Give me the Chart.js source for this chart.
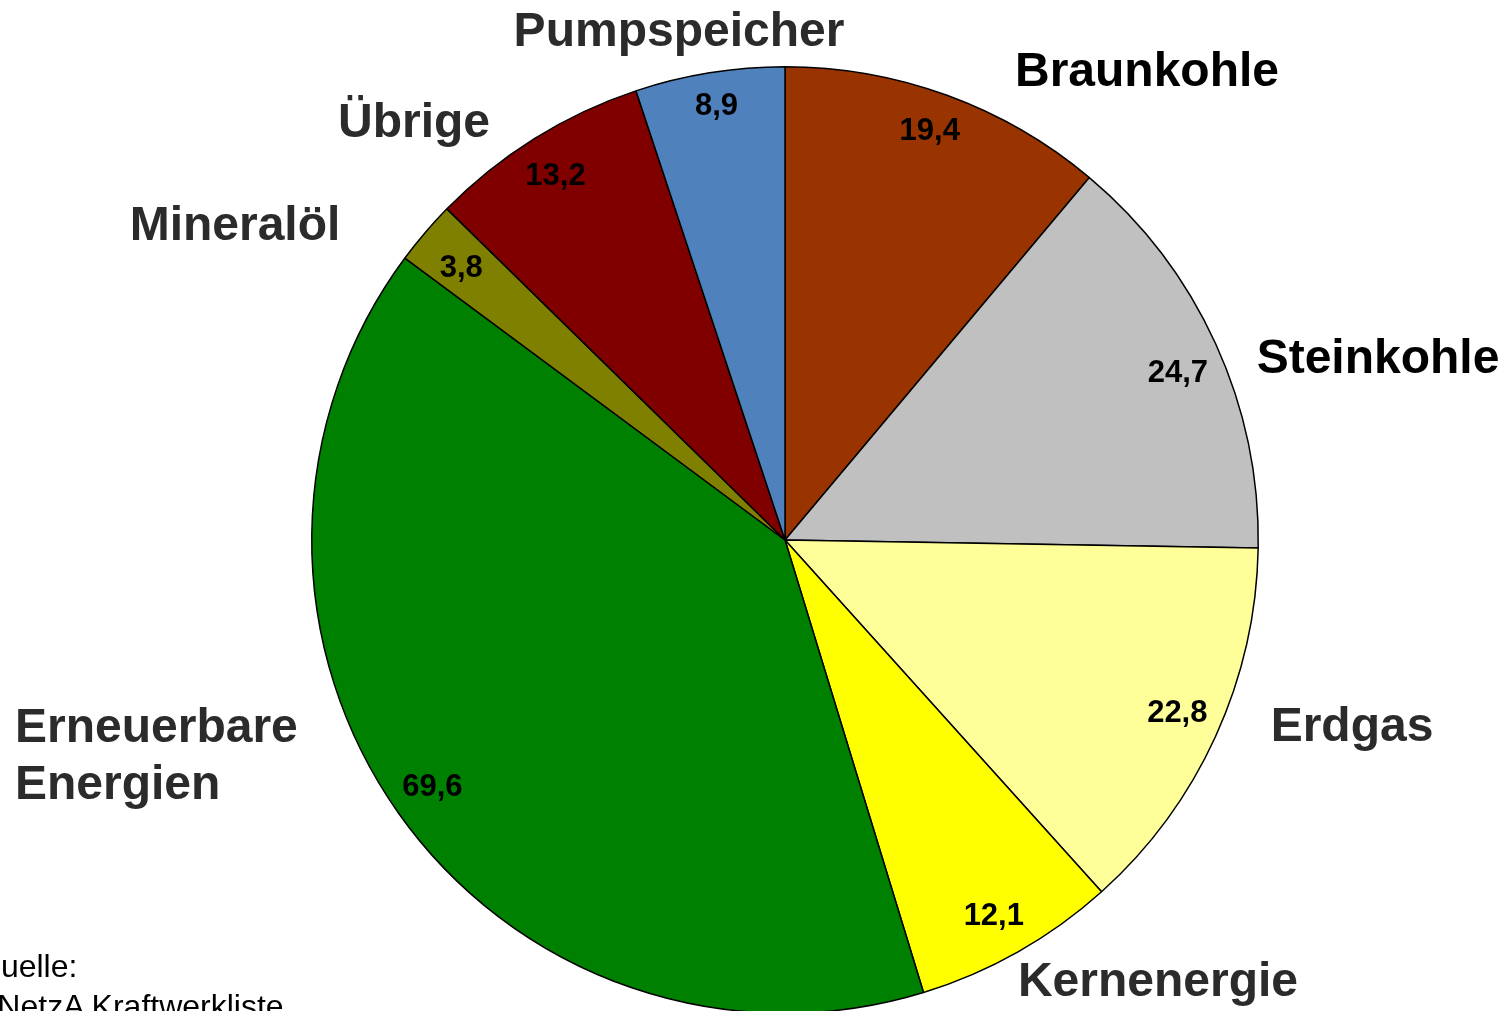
<!DOCTYPE html>
<html lang="de">
<head>
  <meta charset="UTF-8">
  <title>Kraftwerksleistung nach Energieträgern</title>
  <style>
    body {
      margin: 0;
      background: #fff;
      overflow: hidden;
      width: 1504px;
      height: 1011px;
      position: relative;
      font-family: "Liberation Sans", Arial, sans-serif;
    }
    #wrap {
      position: absolute;
      left: 0;
      top: 0;
      width: 1504px;
      height: 1100px;
    }
    .source {
      position: absolute;
      left: -24px;
      top: 946px;
      font-size: 32px;
      line-height: 40px;
      color: #000;
      white-space: nowrap;
    }
  </style>
  <script src="https://cdn.jsdelivr.net/npm/chart.js"></script>
</head>
<body>
  <div id="wrap"><canvas id="pie"></canvas></div>
  <div class="source">Quelle:<br>BNetzA Kraftwerkliste</div>

  <script>
    // Data (GW)
    const categories = ['Braunkohle', 'Steinkohle', 'Erdgas', 'Kernenergie',
      ['Erneuerbare', 'Energien'], 'Mineralöl', 'Übrige', 'Pumpspeicher'];
    const values = [19.4, 24.7, 22.8, 12.1, 69.6, 3.8, 13.2, 8.9];

    // Styles
    const sliceColors = ['#993300', '#C0C0C0', '#FFFF99', '#FFFF00',
      '#008000', '#808000', '#800000', '#4F81BD'];
    const labelColors = ['#000', '#000', '#2b2b2b', '#2b2b2b',
      '#2b2b2b', '#2b2b2b', '#2b2b2b', '#2b2b2b'];
    // category label anchors relative to the pie centre: [dx, baseline dy, align]
    const labelAnchors = [
      [362, -454, 'center'], [593, -167, 'center'], [567, 201, 'center'],
      [373, 456, 'center'], [-770, 202, 'left'], [-550, -300, 'center'],
      [-371, -403, 'center'], [-106, -494, 'center']
    ];
    // value label placement inside slices: [radius factor, angle shift in degrees]
    const valueSpots = [
      [0.916, -0.5], [0.902, 1.5], [0.906, -0.7], [0.91, 0.5],
      [0.91, 0.2], [0.893, -0.5], [0.908, -0.3], [0.928, 0.2]
    ];

    const fmt = v => v.toFixed(1).replace('.', ',');

    const pieLabels = {
      id: 'pieLabels',
      afterDatasetsDraw(chart) {
        const ctx = chart.ctx;
        const arcs = chart.getDatasetMeta(0).data;
        ctx.save();
        arcs.forEach((arc, i) => {
          const { x, y, startAngle, endAngle, outerRadius } = arc.getProps(
            ['x', 'y', 'startAngle', 'endAngle', 'outerRadius'], true);
          const [rf, shift] = valueSpots[i];
          const mid = (startAngle + endAngle) / 2 + shift * Math.PI / 180;
          const r = outerRadius * rf;
          // value inside slice
          ctx.font = 'bold 31px "Liberation Sans", Arial, sans-serif';
          ctx.fillStyle = '#000';
          ctx.textAlign = 'center';
          ctx.textBaseline = 'middle';
          ctx.fillText(fmt(values[i]), x + Math.cos(mid) * r, y + Math.sin(mid) * r);

          // category name outside
          const [dx, dy, align] = labelAnchors[i];
          const lines = Array.isArray(categories[i]) ? categories[i] : [categories[i]];
          ctx.font = 'bold 48px "Liberation Sans", Arial, sans-serif';
          ctx.fillStyle = labelColors[i];
          ctx.textAlign = align;
          ctx.textBaseline = 'alphabetic';
          lines.forEach((t, k) => ctx.fillText(t, x + dx, y + dy + k * 57));
        });
        ctx.restore();
      }
    };

    new Chart(document.getElementById('pie'), {
      type: 'pie',
      data: {
        labels: categories.map(c => Array.isArray(c) ? c.join(' ') : c),
        datasets: [{
          data: values,
          backgroundColor: sliceColors,
          borderColor: '#000',
          borderWidth: 1.5
        }]
      },
      options: {
        responsive: true,
        maintainAspectRatio: false,
        animation: false,
        layout: { padding: { left: 311, right: 245, top: 66, bottom: 86 } },
        plugins: {
          legend: { display: false },
          tooltip: { enabled: false }
        }
      },
      plugins: [pieLabels]
    });
  </script>
</body>
</html>
